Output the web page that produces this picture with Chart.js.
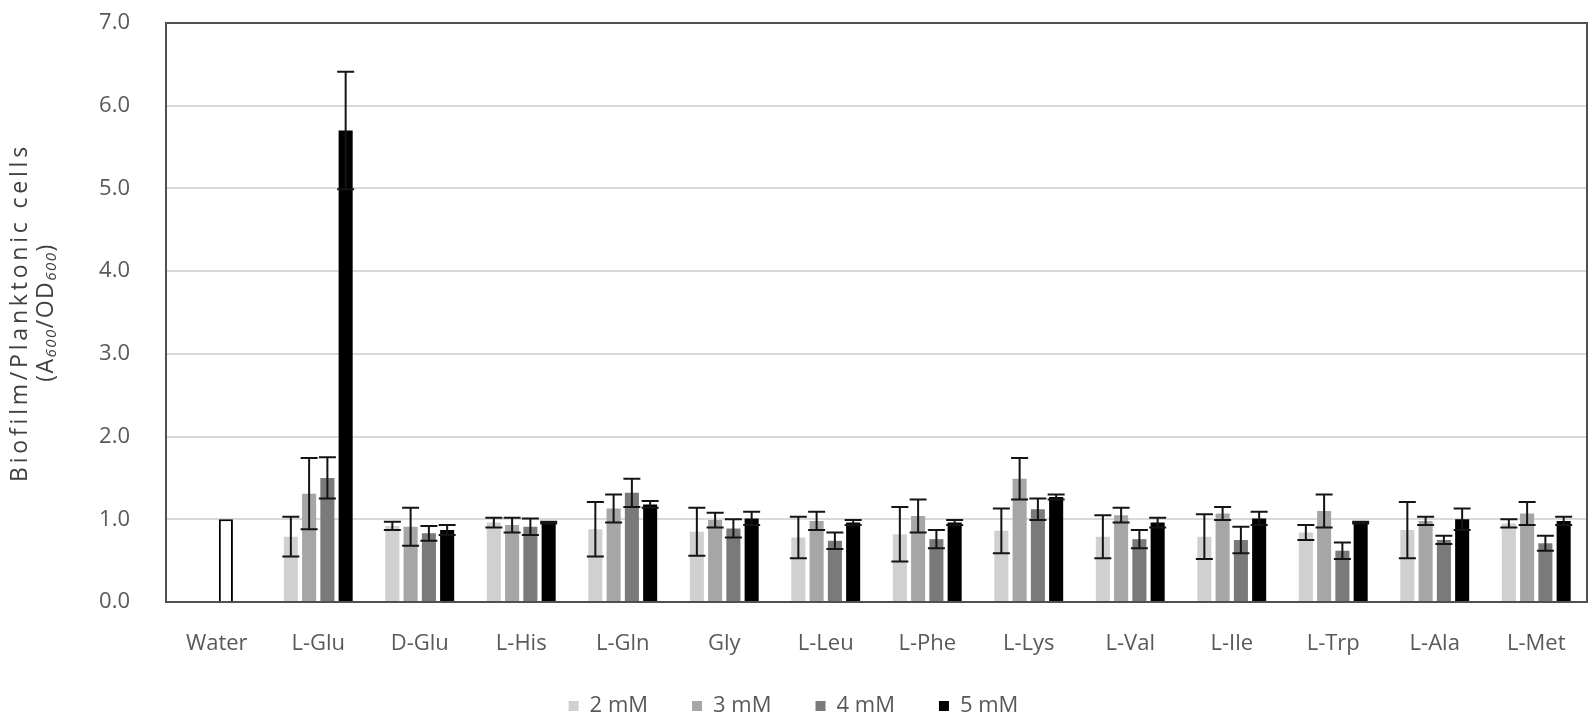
<!DOCTYPE html>
<html>
<head>
<meta charset="utf-8">
<script src="https://cdn.jsdelivr.net/npm/chart.js@4.4.0/dist/chart.umd.min.js"></script>
<style>
    html, body { margin: 0; padding: 0; background: #fff; }
    #wrap { width: 1595px; height: 725px; }
</style>
</head>
<body>
<div id="wrap"><canvas id="myChart"></canvas></div>
<script>
const categories = ['Water', 'L-Glu', 'D-Glu', 'L-His', 'L-Gln', 'Gly', 'L-Leu', 'L-Phe', 'L-Lys', 'L-Val', 'L-Ile', 'L-Trp', 'L-Ala', 'L-Met'];

// means (the Water control sits in the 4 mM slot)
const mM2 = [null, 0.79, 0.92, 0.96, 0.88, 0.85, 0.78, 0.82, 0.86, 0.79, 0.79, 0.84, 0.87, 0.95];
const mM3 = [null, 1.31, 0.91, 0.93, 1.13, 0.99, 0.98, 1.04, 1.49, 1.05, 1.07, 1.10, 0.98, 1.07];
const mM4 = [1.00, 1.50, 0.83, 0.91, 1.32, 0.89, 0.74, 0.76, 1.12, 0.76, 0.75, 0.62, 0.75, 0.71];
const mM5 = [null, 5.70, 0.87, 0.96, 1.18, 1.01, 0.96, 0.96, 1.27, 0.96, 1.01, 0.96, 1.00, 0.98];

// error bar half lengths
const err2 = [0, 0.24, 0.05, 0.06, 0.33, 0.29, 0.25, 0.33, 0.27, 0.26, 0.27, 0.09, 0.34, 0.05];
const err3 = [0, 0.43, 0.23, 0.09, 0.17, 0.09, 0.11, 0.20, 0.25, 0.09, 0.08, 0.20, 0.05, 0.14];
const err4 = [0, 0.25, 0.09, 0.10, 0.17, 0.11, 0.10, 0.11, 0.13, 0.11, 0.16, 0.10, 0.05, 0.09];
const err5 = [0, 0.71, 0.06, 0.01, 0.04, 0.08, 0.03, 0.03, 0.03, 0.06, 0.08, 0.01, 0.13, 0.05];

const yTicks = [0, 1, 2, 3, 4, 5, 6, 7];

const barColors = ['#d0d0d0', '#a6a6a6', '#7a7a7a', '#000000'];
const FONT = '"Open Sans", "Liberation Sans", sans-serif';

const errorBars = {
    id: 'errorBars',
    afterDatasetsDraw(chart) {
        const ctx = chart.ctx;
        const y = chart.scales.y;
        ctx.save();
        ctx.strokeStyle = '#141414';
        ctx.lineWidth = 2;
        chart.data.datasets.forEach((ds, i) => {
            const meta = chart.getDatasetMeta(i);
            meta.data.forEach((bar, j) => {
                const v = ds.data[j];
                const e = ds.errors[j];
                if (v == null || !e) return;
                const top = y.getPixelForValue(v + e);
                const bot = y.getPixelForValue(v - e);
                const cap = 8.5;
                ctx.beginPath();
                ctx.moveTo(bar.x, top);
                ctx.lineTo(bar.x, bot);
                ctx.moveTo(bar.x - cap, top);
                ctx.lineTo(bar.x + cap, top);
                ctx.moveTo(bar.x - cap, bot);
                ctx.lineTo(bar.x + cap, bot);
                ctx.stroke();
            });
        });
        // plot area frame (top and right sides)
        const a = chart.chartArea;
        ctx.strokeStyle = '#505050';
        ctx.beginPath();
        ctx.moveTo(a.left, a.top);
        ctx.lineTo(a.right, a.top);
        ctx.lineTo(a.right, a.bottom);
        ctx.stroke();
        ctx.restore();
    }
};

const yTitle = {
    id: 'yTitle',
    afterDraw(chart) {
        const ctx = chart.ctx;
        const cy = (chart.chartArea.top + chart.chartArea.bottom) / 2;
        ctx.save();
        ctx.fillStyle = '#404040';
        ctx.textBaseline = 'middle';

        ctx.save();
        ctx.letterSpacing = '3.8px';
        ctx.translate(20, cy);
        ctx.rotate(-Math.PI / 2);
        ctx.font = '23px ' + FONT;
        ctx.textAlign = 'center';
        ctx.fillText('Biofilm/Planktonic cells', 0, 0);
        ctx.restore();

        const parts = [['(A', false], ['600', true], ['/OD', false], ['600', true], [')', false]];
        ctx.letterSpacing = '1.5px';
        ctx.translate(46, cy);
        ctx.rotate(-Math.PI / 2);
        ctx.textAlign = 'left';
        let total = 0;
        parts.forEach(p => {
            ctx.font = (p[1] ? 'italic 15px ' : '23px ') + FONT;
            total += ctx.measureText(p[0]).width;
        });
        let x = -total / 2;
        parts.forEach(p => {
            ctx.font = (p[1] ? 'italic 15px ' : '23px ') + FONT;
            ctx.fillText(p[0], x, p[1] ? 6 : 0);
            x += ctx.measureText(p[0]).width;
        });
        ctx.restore();
    }
};

// legend labels.padding also sets the gap between items, so the box is
// made shorter and drawn a little higher
const legendSpace = {
    id: 'legendSpace',
    beforeInit(chart) {
        const legend = chart.legend;
        const fit = legend.fit;
        const draw = legend.draw;
        legend.fit = function () {
            fit.call(this);
            this.height = 61;
        };
        legend.draw = function () {
            this.ctx.save();
            this.ctx.translate(0, -13);
            draw.call(this);
            this.ctx.restore();
        };
    }
};

const ctx = document.getElementById('myChart');

new Chart(ctx, {
    type: 'bar',
    data: {
        labels: categories,
        datasets: [
            {label: '2 mM', data: mM2, errors: err2, backgroundColor: barColors[0]},
            {label: '3 mM', data: mM3, errors: err3, backgroundColor: barColors[1]},
            {
                label: '4 mM', data: mM4, errors: err4,
                backgroundColor: (c) => c.dataIndex === 0 ? '#ffffff' : barColors[2],
                borderColor: '#000000',
                borderWidth: (c) => c.dataIndex === 0 ? 2 : 0,
            },
            {label: '5 mM', data: mM5, errors: err5, backgroundColor: barColors[3]},
        ],
    },
    options: {
        responsive: true,
        maintainAspectRatio: false,
        animation: false,
        devicePixelRatio: 1,
        layout: {padding: {left: 0, right: 8, top: 23, bottom: 0}},
        datasets: {bar: {categoryPercentage: 0.72, barPercentage: 0.77}},
        scales: {
            x: {
                grid: {display: false, drawTicks: false},
                border: {display: true, color: '#505050', width: 2},
                ticks: {color: '#595959', font: {family: FONT, size: 22}, padding: 29, maxRotation: 0, autoSkip: false},
                afterFit: (s) => { s.height = 62; },
            },
            y: {
                min: 0,
                max: 7,
                afterBuildTicks: (s) => { s.ticks = yTicks.map(v => ({value: v})); },
                grid: {color: '#d9d9d9', lineWidth: 2, drawTicks: true, tickLength: 30, tickColor: 'rgba(0,0,0,0)'},
                border: {display: true, color: '#505050', width: 2},
                ticks: {color: '#595959', font: {family: FONT, size: 22}, padding: 6, callback: (v) => v.toFixed(1)},
                afterFit: (s) => { s.width = 166; },
            },
        },
        plugins: {
            legend: {
                position: 'bottom',
                labels: {
                    color: '#595959', font: {family: FONT, size: 22}, boxWidth: 10, boxHeight: 10, padding: 44,
                    generateLabels: (chart) => Chart.defaults.plugins.legend.labels.generateLabels(chart).map(item => {
                        item.fillStyle = barColors[item.datasetIndex];
                        item.strokeStyle = 'rgba(0,0,0,0)';
                        item.lineWidth = 0;
                        return item;
                    }),
                },
            },
            tooltip: {enabled: false},
        },
    },
    plugins: [errorBars, yTitle, legendSpace],
});
</script>
</body>
</html>
